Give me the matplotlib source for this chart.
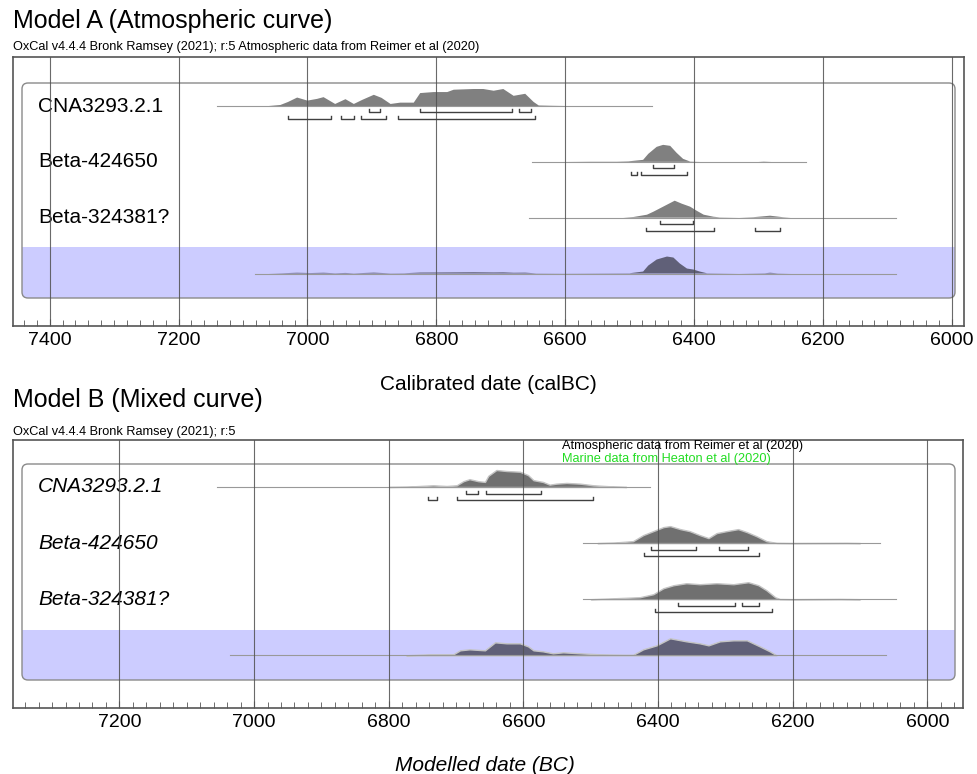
# OxCal-style multiplot: Model A (atmospheric) and Model B (mixed curve)

import numpy as np
import matplotlib.pyplot as plt
from matplotlib.patches import FancyBboxPatch, Rectangle
from matplotlib.ticker import MultipleLocator

plt.rcParams['font.family'] = ['Liberation Sans', 'DejaVu Sans']

# ---- data (calendar years BC, relative probability) ----
labels = ['CNA3293.2.1', 'Beta-424650', 'Beta-324381?']

# Model A
a_cna_year = [7060, 7042, 7030, 7016, 7000, 6985, 6975, 6965, 6957, 6941, 6928, 6915, 6897,
              6885, 6871, 6856, 6835, 6825, 6804, 6783, 6773, 6742, 6727, 6711, 6696, 6680,
              6662, 6649, 6641, 6620, 6600]
a_cna_prob = [0, 1, 4, 8.3, 5.3, 7, 8.7, 5, 2, 6.7, 2, 6, 11, 8, 2, 3.3, 3.3, 12.7, 13.7, 13.7,
              16, 16.7, 16.7, 15, 16.7, 10, 12, 4, 0.5, 0.2, 0]
a_cna_span = (7140, 6465)
a_cna_68 = [(6905, 6887), (6826, 6683), (6671, 6653)]
a_cna_95 = [(7030, 6963), (6948, 6927), (6917, 6878), (6860, 6647)]

a_b42_year = [6600, 6561, 6520, 6502, 6479, 6471, 6458, 6448, 6437, 6427, 6417, 6406, 6390,
              6300, 6292, 6280]
a_b42_prob = [0, 0.2, 0.2, 0.5, 2, 8, 15, 17, 16, 9, 3, 0.3, 0, 0, 0.3, 0]
a_b42_span = (6651, 6226)
a_b42_68 = [(6463, 6431)]
a_b42_95 = [(6498, 6488), (6483, 6411)]

a_b32_year = [6510, 6494, 6473, 6463, 6448, 6430, 6419, 6406, 6396, 6385, 6370, 6360, 6330,
              6308, 6282, 6262, 6250]
a_b32_prob = [0, 0.7, 3, 6, 11, 17, 14, 11, 7, 3, 1, 0.3, 0, 0.5, 2, 0.5, 0]
a_b32_span = (6656, 6087)
a_b32_68 = [(6453, 6401)]
a_b32_95 = [(6475, 6369), (6305, 6267)]

a_sum_year = [7060, 7040, 7016, 6995, 6975, 6957, 6941, 6928, 6897, 6871, 6850, 6825, 6790,
              6742, 6711, 6696, 6680, 6662, 6645, 6600, 6500, 6479, 6471, 6458, 6442, 6432,
              6422, 6411, 6401, 6391, 6380, 6330, 6290, 6282, 6270, 6250]
a_sum_prob = [0, 0.3, 0.8, 0.5, 0.8, 0.3, 0.6, 0.2, 0.9, 0.2, 0.3, 1.0, 1.1, 1.3, 1.1, 1.2,
              0.8, 0.9, 0.2, 0.1, 0.3, 2, 8, 14, 17, 16, 10, 5, 4, 2, 0.3, 0, 0.3, 0.8, 0.2, 0]
a_sum_span = (7081, 6087)

# Model B
b_cna_year = [6800, 6774, 6734, 6714, 6699, 6689, 6680, 6667, 6657, 6652, 6640, 6625, 6605,
              6593, 6585, 6571, 6561, 6551, 6536, 6516, 6496, 6471, 6447]
b_cna_prob = [0, 0.3, 1.7, 1, 1.7, 5.7, 7.7, 5.7, 5, 11, 16.7, 15.7, 15, 11.7, 6.7, 5, 2.3,
              3.3, 4, 3.3, 1.7, 0.7, 0]
b_cna_span = (7055, 6412)
b_cna_68 = [(6685, 6667), (6656, 6574)]
b_cna_95 = [(6741, 6728), (6699, 6497)]

b_b42_year = [6490, 6466, 6437, 6422, 6407, 6392, 6382, 6367, 6353, 6338, 6325, 6313, 6298,
              6281, 6268, 6254, 6239, 6224, 6200, 6120, 6100]
b_b42_prob = [0, 0.5, 2, 8, 12, 16, 17, 14, 12, 8, 5, 10, 12, 14, 11, 7, 2, 0.2, 0, 0.2, 0]
b_b42_span = (6511, 6071)
b_b42_68 = [(6411, 6344), (6309, 6267)]
b_b42_95 = [(6421, 6250)]

b_b32_year = [6500, 6481, 6427, 6407, 6392, 6377, 6358, 6338, 6313, 6288, 6266, 6251, 6239,
              6226, 6219, 6200, 6130, 6100]
b_b32_prob = [0, 0.5, 2, 5, 11, 14, 16, 15, 16, 15, 17, 14, 9, 2, 0.2, 0, 0.3, 0]
b_b32_span = (6511, 6047)
b_b32_68 = [(6370, 6285), (6275, 6250)]
b_b32_95 = [(6404, 6230)]

b_sum_year = [6774, 6740, 6704, 6694, 6680, 6657, 6642, 6625, 6605, 6593, 6585, 6571, 6556,
              6541, 6516, 6486, 6450, 6437, 6422, 6402, 6382, 6358, 6338, 6325, 6308, 6288,
              6268, 6249, 6234, 6224]
b_sum_prob = [0, 1, 1, 5, 6, 5, 13, 12, 12, 9, 5, 4, 2, 3, 2, 1, 0.5, 0.5, 6, 10, 17, 14, 12,
              10, 14, 15, 15, 9, 4, 0]
b_sum_span = (7036, 6062)

# ---- layout (figure pixels) ----
W, H = 977, 774
PEAK = 17


def fx(x):
    return x / W


def fy(y):
    return 1 - y / H


def bracket(ax, lo, hi, y):
    ax.plot([lo, lo, hi, hi], [y - 3, y, y, y - 3], color='#404040', lw=1, zorder=2)


def draw_row(ax, base, years, prob, span, r68, r95, fc, ec='none'):
    p = np.array(prob, float)
    h = p / p.max() * PEAK
    ax.plot(span, [base, base], color='#999999', lw=0.8, zorder=1.5)
    ax.fill_between(years, base, base - h, facecolor=fc, edgecolor=ec, lw=1, zorder=1)
    for lo, hi in r68:
        bracket(ax, lo, hi, base + 6.5)
    for lo, hi in r95:
        bracket(ax, lo, hi, base + 13)


def panel(fig, bg, top, bottom, right, xlim, box_top, box_bot, band_top, rows, italic, fc, ec):
    ax = fig.add_axes([fx(13), fy(bottom), (right - 13) / W, (bottom - top) / H], zorder=1)
    ax.set_facecolor('none')
    ax.set_xlim(*xlim)
    ax.set_ylim(bottom, top)
    ax.set_yticks([])
    ax.xaxis.set_major_locator(MultipleLocator(200))
    ax.xaxis.set_minor_locator(MultipleLocator(20))
    ax.tick_params(axis='x', which='both', direction='in', color='#555555', labelsize=14, pad=4)
    ax.tick_params(axis='x', which='major', length=5)
    ax.tick_params(axis='x', which='minor', length=4)
    ax.grid(axis='x', which='major', color='#505050', lw=0.8, alpha=0.85)
    for s in ax.spines.values():
        s.set_color('#555555')
        s.set_linewidth(1.2)

    # rounded box and blue band for the sum
    bg.add_patch(FancyBboxPatch((22, band_top), 933, box_bot - band_top,
                                boxstyle='round,pad=0,rounding_size=6',
                                fc='#ccccff', ec='none'))
    bg.add_patch(Rectangle((22, band_top), 933, 15, fc='#ccccff', ec='none'))
    bg.add_patch(FancyBboxPatch((22, box_top), 933, box_bot - box_top,
                                boxstyle='round,pad=0,rounding_size=6',
                                fc='none', ec='#8a8a8a', lw=1))

    step = (box_bot - box_top) / 3.85
    for i, r in enumerate(rows):
        base = box_top + 23 + i * step
        if i < 3:
            draw_row(ax, base, *r, fc=fc, ec=ec)
            bg.text(38, base, labels[i], fontsize=15, va='center',
                    style='italic' if italic else 'normal')
        else:
            draw_row(ax, base, *r, [], [], fc='#606078', ec=ec)
    return ax


fig = plt.figure(figsize=(W / 100, H / 100), dpi=100)
bg = fig.add_axes([0, 0, 1, 1], zorder=0)
bg.set_xlim(0, W)
bg.set_ylim(H, 0)
bg.axis('off')

rows_a = [
    (a_cna_year, a_cna_prob, a_cna_span, a_cna_68, a_cna_95),
    (a_b42_year, a_b42_prob, a_b42_span, a_b42_68, a_b42_95),
    (a_b32_year, a_b32_prob, a_b32_span, a_b32_68, a_b32_95),
    (a_sum_year, a_sum_prob, a_sum_span),
]
rows_b = [
    (b_cna_year, b_cna_prob, b_cna_span, b_cna_68, b_cna_95),
    (b_b42_year, b_b42_prob, b_b42_span, b_b42_68, b_b42_95),
    (b_b32_year, b_b32_prob, b_b32_span, b_b32_68, b_b32_95),
    (b_sum_year, b_sum_prob, b_sum_span),
]

panel(fig, bg, 57, 326, 964, (7457, 5981), 83, 298, 247, rows_a, False, '#808080', 'none')
panel(fig, bg, 440, 708, 963, (7358, 5947), 464, 680, 630, rows_b, True, '#707070', '#c4c4c4')

# texts
fig.text(fx(13), fy(28), 'Model A (Atmospheric curve)', fontsize=18, va='baseline')
fig.text(fx(13), fy(50), 'OxCal v4.4.4 Bronk Ramsey (2021); r:5 Atmospheric data from Reimer et al (2020)',
         fontsize=9.2, va='baseline')
fig.text(fx(488), fy(390), 'Calibrated date (calBC)', fontsize=15, ha='center', va='baseline')

fig.text(fx(13), fy(407), 'Model B (Mixed curve)', fontsize=18, va='baseline')
fig.text(fx(13), fy(435), 'OxCal v4.4.4 Bronk Ramsey (2021); r:5', fontsize=9.2, va='baseline')
fig.text(fx(562), fy(449), 'Atmospheric data from Reimer et al (2020)', fontsize=9.2, va='baseline')
fig.text(fx(562), fy(462), 'Marine data from Heaton et al (2020)', fontsize=9.2, va='baseline',
         color='#22dd22')
fig.text(fx(485), fy(771), 'Modelled date (BC)', fontsize=15, ha='center', va='baseline',
         style='italic')

fig.savefig('out.png', dpi=100)
